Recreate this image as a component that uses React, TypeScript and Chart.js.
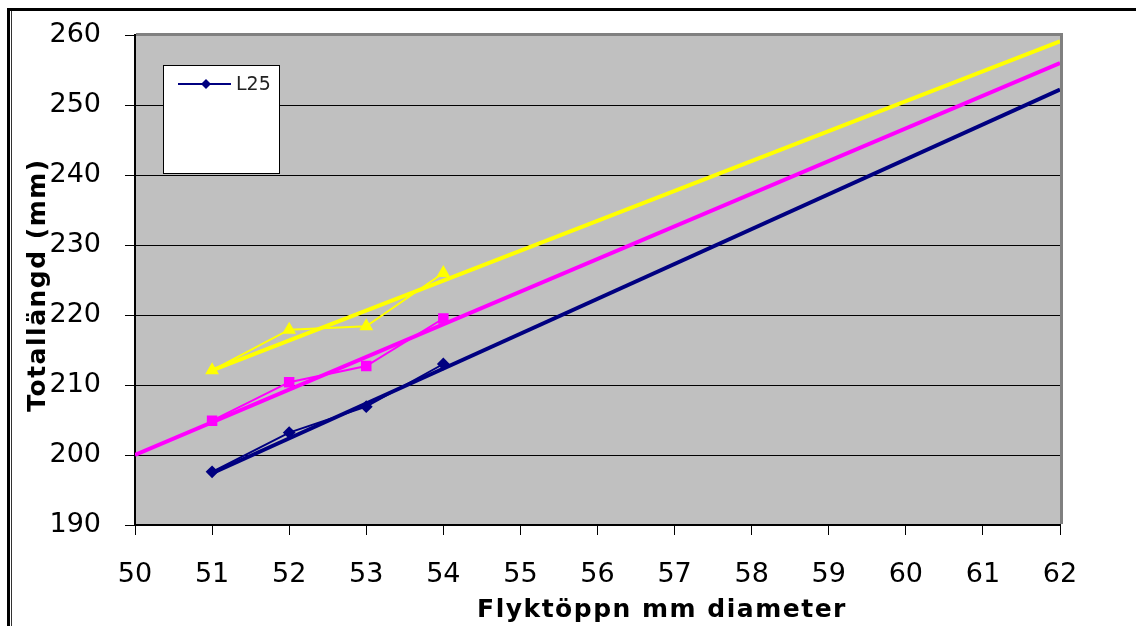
import React, { useEffect, useRef } from "react";
import { Chart, registerables } from "chart.js";

Chart.register(...registerables);

// Data
const xCategories = [51, 52, 53, 54];
const navyValues = [197.6, 203.2, 206.9, 213.0];
const magentaValues = [204.9, 210.4, 212.7, 219.5];
const yellowValues = [212.1, 217.9, 218.4, 226.0];

// Trend lines: [startX, endX] and [startY, endY]
const navyTrendX = [51, 62];
const navyTrendY = [197.4, 252.2];
const magentaTrendX = [50, 62];
const magentaTrendY = [200.0, 256.0];
const yellowTrendX = [51, 62];
const yellowTrendY = [212.1, 259.1];

const xTicks = [50, 51, 52, 53, 54, 55, 56, 57, 58, 59, 60, 61, 62];
const yTicks = [190, 200, 210, 220, 230, 240, 250, 260];

const legendLabel = "L25";
const xTitle = "Flyktöppn mm diameter";
const yTitle = "Totallängd (mm)";

const NAVY = "#000080";
const MAGENTA = "#FF00FF";
const YELLOW = "#FFFF00";

const pts = (xs: number[], ys: number[]) => xs.map((x, i) => ({ x, y: ys[i] }));

const decorPlugin = {
  id: "decor",
  beforeDraw(chart: any) {
    const { ctx, chartArea: a } = chart;
    ctx.save();
    ctx.fillStyle = "#ffffff";
    ctx.fillRect(0, 0, chart.width, chart.height);
    // outer frame (top + double left)
    ctx.fillStyle = "#000";
    ctx.fillRect(7, 8, chart.width - 7, 3);
    ctx.fillRect(7, 8, 3, chart.height - 8);
    ctx.fillStyle = "#333";
    ctx.fillRect(11, 11, 1, chart.height - 11);
    // plot background
    ctx.fillStyle = "#C0C0C0";
    ctx.fillRect(a.left, a.top, a.right - a.left, a.bottom - a.top);
    ctx.restore();
  },
  afterDraw(chart: any) {
    const { ctx, chartArea: a } = chart;
    ctx.save();
    // gray top/right border of the plot area
    ctx.fillStyle = "#808080";
    ctx.fillRect(a.left + 1, a.top - 2, a.right - a.left + 2, 3);
    ctx.fillRect(a.right, a.top - 2, 3, a.bottom - a.top + 1);

    // legend box
    const lx = 163, ly = 65, lw = 116, lh = 108;
    ctx.fillStyle = "#fff";
    ctx.fillRect(lx, ly, lw, lh);
    ctx.strokeStyle = "#000";
    ctx.lineWidth = 1;
    ctx.strokeRect(lx + 0.5, ly + 0.5, lw, lh);
    ctx.strokeStyle = NAVY;
    ctx.lineWidth = 2;
    ctx.beginPath();
    ctx.moveTo(178, 84);
    ctx.lineTo(231, 84);
    ctx.stroke();
    ctx.fillStyle = NAVY;
    ctx.beginPath();
    ctx.moveTo(206, 79);
    ctx.lineTo(211, 84);
    ctx.lineTo(206, 89);
    ctx.lineTo(201, 84);
    ctx.closePath();
    ctx.fill();
    ctx.fillStyle = "#222";
    ctx.font = "19px 'DejaVu Sans'";
    ctx.textBaseline = "middle";
    ctx.textAlign = "left";
    ctx.fillText(legendLabel, 236, 85);

    // axis titles
    ctx.fillStyle = "#000";
    ctx.font = "bold 25px 'DejaVu Sans'";
    (ctx as any).letterSpacing = "1.5px";
    ctx.textAlign = "center";
    ctx.textBaseline = "alphabetic";
    ctx.fillText(xTitle, 662, 617);
    ctx.translate(45, 285);
    ctx.rotate(-Math.PI / 2);
    ctx.fillText(yTitle, 0, 0);
    ctx.restore();
  },
};

export default function App() {
  const ref = useRef<HTMLCanvasElement | null>(null);
  useEffect(() => {
    if (!ref.current) return;
    const chart = new Chart(ref.current, {
      type: "scatter",
      data: {
        datasets: [
          {
            label: "trend1",
            data: pts(yellowTrendX, yellowTrendY),
            showLine: true,
            borderColor: YELLOW,
            borderWidth: 4,
            pointRadius: 0,
            order: 1,
          },
          {
            label: "trend2",
            data: pts(magentaTrendX, magentaTrendY),
            showLine: true,
            borderColor: MAGENTA,
            borderWidth: 4,
            pointRadius: 0,
            order: 1,
          },
          {
            label: "trend3",
            data: pts(navyTrendX, navyTrendY),
            showLine: true,
            borderColor: NAVY,
            borderWidth: 4,
            pointRadius: 0,
            order: 1,
          },
          {
            label: "yellow",
            data: pts(xCategories, yellowValues),
            showLine: true,
            borderColor: YELLOW,
            backgroundColor: YELLOW,
            borderWidth: 2,
            pointStyle: "triangle",
            pointRadius: 6,
            order: 2,
          },
          {
            label: "magenta",
            data: pts(xCategories, magentaValues),
            showLine: true,
            borderColor: MAGENTA,
            backgroundColor: MAGENTA,
            borderWidth: 2,
            pointStyle: "rect",
            pointRadius: 6,
            order: 2,
          },
          {
            label: legendLabel,
            data: pts(xCategories, navyValues),
            showLine: true,
            borderColor: NAVY,
            backgroundColor: NAVY,
            borderWidth: 2,
            pointStyle: "rectRot",
            pointRadius: 5,
            order: 2,
          },
        ],
      },
      options: {
        animation: false,
        responsive: false,
        maintainAspectRatio: false,
        layout: { padding: { left: 0, top: 35, right: 76, bottom: 0 } },
        plugins: {
          legend: { display: false },
          tooltip: { enabled: false },
        },
        scales: {
          x: {
            type: "linear",
            min: xTicks[0],
            max: xTicks[xTicks.length - 1],
            afterBuildTicks: (s: any) => {
              s.ticks = xTicks.map((v) => ({ value: v }));
            },
            afterFit: (s: any) => {
              s.height = 101;
              s.paddingLeft = 0;
              s.paddingRight = 0;
            },
            ticks: {
              color: "#000",
              font: { family: "'DejaVu Sans'", size: 27 },
              padding: 24,
              maxRotation: 0,
              autoSkip: false,
            },
            grid: {
              drawOnChartArea: false,
              drawTicks: true,
              tickLength: 10,
              color: "#000",
            },
            border: { color: "#000", width: 2 },
          },
          y: {
            type: "linear",
            min: yTicks[0],
            max: yTicks[yTicks.length - 1],
            afterBuildTicks: (s: any) => {
              s.ticks = yTicks.map((v) => ({ value: v }));
            },
            afterFit: (s: any) => {
              s.width = 135;
              s.paddingTop = 0;
              s.paddingBottom = 0;
            },
            ticks: {
              color: "#000",
              font: { family: "'DejaVu Sans'", size: 27 },
              padding: 24,
            },
            grid: {
              color: "#000",
              lineWidth: 1,
              tickLength: 10,
            },
            border: { color: "#000", width: 2 },
          },
        },
      },
      plugins: [decorPlugin],
    });
    return () => chart.destroy();
  }, []);
  return (
    <canvas
      ref={ref}
      width={1136}
      height={626}
      style={{ position: "fixed", left: 0, top: 0, width: 1136, height: 626, display: "block" }}
    />
  );
}
